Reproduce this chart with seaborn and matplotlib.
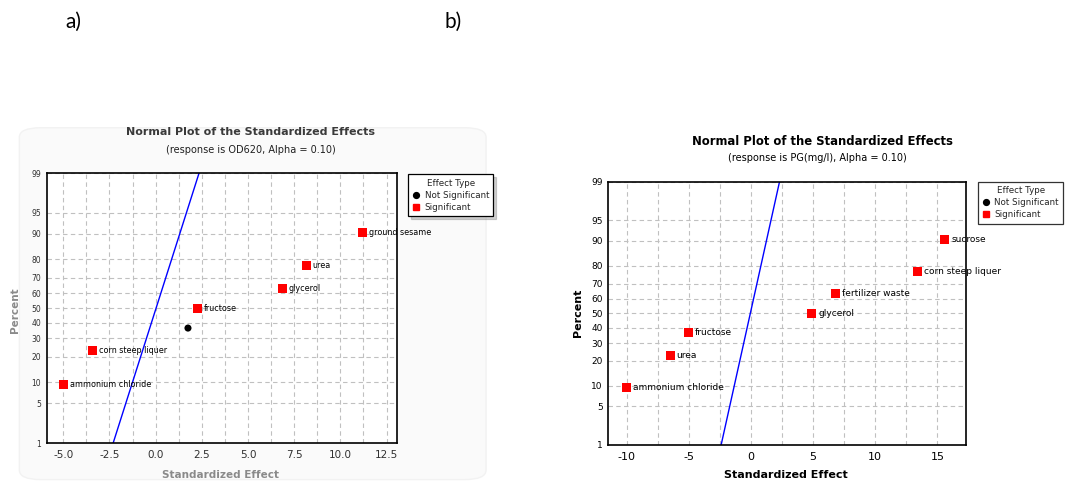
import statistics
import numpy as np
import pandas as pd
import seaborn as sns
import matplotlib.pyplot as plt
from matplotlib.lines import Line2D
from matplotlib.patches import FancyBboxPatch
from matplotlib.ticker import MultipleLocator, FixedLocator

# --- datos ---
# panel a) respuesta OD620
a_terms = ["ammonium chloride", "corn steep liquer", "", "fructose", "glycerol", "urea", "ground sesame"]
a_effect = [-5.0, -3.4, 1.75, 2.25, 6.85, 8.15, 11.2]
a_percent = [9.5, 23.0, 36.5, 50.0, 63.5, 77.0, 90.5]
a_type = ["Significant", "Significant", "Not Significant", "Significant",
          "Significant", "Significant", "Significant"]
a_line_effect = [-2.3, 2.35]

# panel b) respuesta PG(mg/l)
b_terms = ["ammonium chloride", "urea", "fructose", "glycerol", "fertilizer waste",
           "corn steep liquer", "sucrose"]
b_effect = [-10.0, -6.5, -5.0, 4.9, 6.8, 13.4, 15.6]
b_percent = [9.5, 23.0, 36.5, 50.0, 63.5, 77.0, 90.5]
b_type = ["Significant"] * 7
b_line_effect = [-2.4, 2.3]

line_percent = [1, 99]
y_ticks = [1, 5, 10, 20, 30, 40, 50, 60, 70, 80, 90, 95, 99]
effect_types = ["Not Significant", "Significant"]

# escala de probabilidad normal
ND = statistics.NormalDist()
_ppf = np.vectorize(lambda v: ND.inv_cdf(v), otypes=[float])
_cdf = np.vectorize(lambda v: ND.cdf(v), otypes=[float])


def pct_to_z(p):
    p = np.clip(np.asarray(p, dtype=float), 1e-4, 100 - 1e-4)
    return _ppf(p / 100.0)


def z_to_pct(z):
    return _cdf(np.asarray(z, dtype=float)) * 100.0


sns.set_style("white")
plt.rcParams['font.family'] = ['DejaVu Sans']
plt.rcParams['axes.unicode_minus'] = False

fig = plt.figure(figsize=(10.73, 4.82), dpi=100)

# fondo muy tenue del panel a)
fig.patches.append(FancyBboxPatch((0.018, 0.005), 0.435, 0.73,
                                  boxstyle="round,pad=0,rounding_size=0.02",
                                  transform=fig.transFigure, facecolor="#fafafa",
                                  edgecolor="#f2f2f2", lw=1, zorder=-5))

fig.text(0.061, 0.955, "a)", fontsize=15, family="Lato", va="center", color="black")
fig.text(0.414, 0.955, "b)", fontsize=15, family="Lato", va="center", color="black")

ax_a = fig.add_axes([0.0435, 0.0809, 0.3262, 0.560])
ax_b = fig.add_axes([0.5669, 0.0768, 0.3331, 0.5463])

palette = {"Not Significant": "black", "Significant": "red"}
markers = {"Not Significant": "o", "Significant": "s"}
msizes = {"Not Significant": 26, "Significant": 42}


def draw_panel(ax, effect, percent, types, terms, line_effect, xlim, major, minor,
               tick_fmt, xtick_size, ytick_size, label_color, term_size):
    df = pd.DataFrame({"effect": effect, "percent": percent, "type": types, "term": terms})
    ax.set_yscale("function", functions=(pct_to_z, z_to_pct))
    ax.plot(line_effect, line_percent, color="blue", lw=1, zorder=2)
    sns.scatterplot(data=df, x="effect", y="percent", hue="type", style="type",
                    size="type", sizes=msizes,
                    hue_order=effect_types, style_order=effect_types, size_order=effect_types,
                    palette=palette, markers=markers, linewidth=0,
                    legend=False, ax=ax, zorder=3)
    for _, r in df.iterrows():
        if r["term"]:
            ax.annotate(r["term"], (r["effect"], r["percent"]), xytext=(4.5, 0),
                        textcoords="offset points", va="center", ha="left",
                        fontsize=term_size, color="black")
    ax.set_ylim(1, 99)
    ax.set_xlim(*xlim)
    ax.yaxis.set_major_locator(FixedLocator(y_ticks))
    ax.yaxis.set_minor_locator(FixedLocator([]))
    ax.set_yticklabels([str(t) for t in y_ticks])
    ax.xaxis.set_major_locator(MultipleLocator(major))
    ax.xaxis.set_minor_locator(MultipleLocator(minor))
    ax.xaxis.set_major_formatter(tick_fmt)
    ax.grid(True, which="both", axis="x", color="#c0c0c0", ls=(0, (4, 3)), lw=0.8)
    ax.grid(True, which="major", axis="y", color="#c0c0c0", ls=(0, (4, 3)), lw=0.8)
    ax.tick_params(axis="x", which="major", length=3, labelsize=xtick_size, pad=2)
    ax.tick_params(axis="x", which="minor", length=0)
    ax.tick_params(axis="y", length=3, labelsize=ytick_size, pad=1)
    ax.tick_params(axis="both", colors="black", labelcolor=label_color)
    for s in ax.spines.values():
        s.set_color("black")
        s.set_linewidth(1.2)
    ax.set_xlabel("")
    ax.set_ylabel("")


draw_panel(ax_a, a_effect, a_percent, a_type, a_terms, a_line_effect, (-5.9, 13.05),
           2.5, 1.25, "{x:.1f}", 7.5, 5.5, "#303030", 5.8)
draw_panel(ax_b, b_effect, b_percent, b_type, b_terms, b_line_effect, (-11.48, 17.28),
           5, 2.5, "{x:.0f}", 8, 6.5, "black", 6.5)


def legend_for(ax, x, y, shadow):
    handles = [Line2D([], [], marker=markers[t], color=palette[t], ls="",
                      markersize=4.2 if t == "Not Significant" else 5)
               for t in effect_types]
    leg = ax.legend(handles, effect_types, title="Effect Type", loc="upper left",
                    bbox_to_anchor=(x, y), fontsize=6.3, title_fontsize=6.3,
                    frameon=True, fancybox=False,
                    shadow={"alpha": 0.25} if shadow else False,
                    handlelength=0.8, handletextpad=0.6, borderpad=0.5,
                    labelspacing=0.35, borderaxespad=0)
    leg.get_frame().set_edgecolor("black")
    leg.get_frame().set_linewidth(0.9)
    return leg


legend_for(ax_a, 1.032, 0.996, True)
legend_for(ax_b, 1.034, 0.999, False)

# titulos y etiquetas
fig.text(251 / 1073, 1 - 132 / 482, "Normal Plot of the Standardized Effects",
         ha="center", va="center", fontsize=8, weight="bold", color="#3a3a3a")
fig.text(251 / 1073, 1 - 150 / 482, "(response is OD620, Alpha = 0.10)",
         ha="center", va="center", fontsize=7, color="#202020")
fig.text(15 / 1073, 1 - 310 / 482, "Percent", rotation=90, ha="center", va="center",
         fontsize=7.5, weight="bold", color="#8a8a8a")
fig.text(221 / 1073, 1 - 475 / 482, "Standardized Effect", ha="center", va="center",
         fontsize=7.5, weight="bold", color="#8a8a8a")

fig.text(822 / 1073, 1 - 141 / 482, "Normal Plot of the Standardized Effects",
         ha="center", va="center", fontsize=8.4, weight="bold", color="black")
fig.text(817 / 1073, 1 - 158 / 482, "(response is PG(mg/l), Alpha = 0.10)",
         ha="center", va="center", fontsize=7, color="black")
fig.text(578 / 1073, 1 - 313 / 482, "Percent", rotation=90, ha="center", va="center",
         fontsize=8, weight="bold", color="black")
fig.text(786 / 1073, 1 - 475 / 482, "Standardized Effect", ha="center", va="center",
         fontsize=8, weight="bold", color="black")

fig.savefig("out.png", dpi=100)
